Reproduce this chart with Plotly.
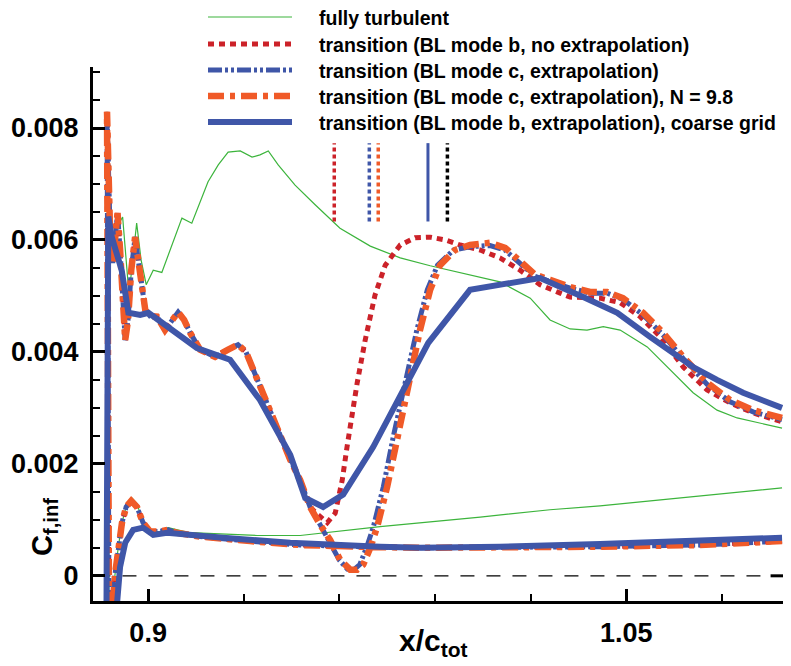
import plotly.graph_objects as go

# ---------------- data ----------------
# each series: lower surface (trailing edge -> leading edge) then upper surface (leading edge -> trailing edge)
turb_x = [1.0989, 1.0732, 1.0418, 1.0261, 1.0042, 0.9728, 0.9477, 0.9342, 0.9132, 0.9063, 0.9038, 0.9006,
          0.8984, 0.8965, 0.8949, 0.8931, 0.8918, 0.8906, 0.8896, 0.8887, 0.8878,
          0.8871, 0.8874, 0.8881, 0.8890, 0.8897, 0.8920, 0.8940, 0.8964, 0.8978, 0.8994, 0.9016, 0.9043,
          0.9106, 0.9137, 0.9188, 0.9220, 0.9251, 0.9289, 0.9326, 0.9351, 0.9377, 0.9408, 0.9461, 0.9524,
          0.9602, 0.9697, 0.9791, 0.9885, 1.0010, 1.0104, 1.0199, 1.0261, 1.0324, 1.0377, 1.0428, 1.0481,
          1.0566, 1.0638, 1.0710, 1.0785, 1.0848, 1.0989]
turb_y = [0.00157, 0.00143, 0.00125, 0.00118, 0.00105, 0.00088, 0.00072, 0.00072, 0.00077, 0.00086, 0.00079, 0.00079,
          0.00095, 0.00129, 0.00139, 0.00123, 0.00095, 0.00050, 0.00002, -0.00061, -0.00186,
          0.00829, 0.00743, 0.00605, 0.00573, 0.00618, 0.00641, 0.00502, 0.00630, 0.00564, 0.00520, 0.00546, 0.00542,
          0.00639, 0.00630, 0.00704, 0.00734, 0.00757, 0.00759, 0.00748, 0.00752, 0.00759, 0.00734, 0.00698, 0.00663,
          0.00621, 0.00589, 0.00568, 0.00554, 0.00538, 0.00525, 0.00496, 0.00457, 0.00441, 0.00439, 0.00445, 0.00439,
          0.00409, 0.00368, 0.00327, 0.00296, 0.00282, 0.00264]

# transition, BL mode c, extrapolation, N = 9.8 (orange)
n98_x = [1.0989, 1.0732, 1.0418, 1.0104, 0.9853, 0.9665, 0.9477, 0.9320, 0.9163, 0.9088, 0.9063, 0.9031, 0.9006,
         0.8984, 0.8965, 0.8947, 0.8931, 0.8918, 0.8906, 0.8896, 0.8887, 0.8878,
         0.8871, 0.8874, 0.8881, 0.8889, 0.8897, 0.8904, 0.8912, 0.8922, 0.8928, 0.8937, 0.8947, 0.8959, 0.8972,
         0.8991, 0.9006, 0.9028, 0.9053, 0.9075, 0.9094, 0.9113, 0.9132, 0.9163, 0.9210, 0.9251, 0.9282, 0.9307,
         0.9336, 0.9367, 0.9414, 0.9446, 0.9477, 0.9508, 0.9540, 0.9571, 0.9602, 0.9634, 0.9656, 0.9675, 0.9697,
         0.9719, 0.9750, 0.9781, 0.9816, 0.9853, 0.9885, 0.9916, 0.9963, 1.0010, 1.0073, 1.0120, 1.0167, 1.0214,
         1.0261, 1.0324, 1.0387, 1.0440, 1.0490, 1.0553, 1.0616, 1.0679, 1.0754, 1.0826, 1.0898, 1.0989]
n98_y = [0.00062, 0.00055, 0.00052, 0.00050, 0.00050, 0.00052, 0.00055, 0.00062, 0.00070, 0.00077, 0.00082, 0.00079, 0.00079,
         0.00095, 0.00123, 0.00134, 0.00123, 0.00095, 0.00050, 0.00002, -0.00061, -0.00186,
         0.00829, 0.00743, 0.00605, 0.00559, 0.00609, 0.00648, 0.00582, 0.00475, 0.00421, 0.00457, 0.00546, 0.00605, 0.00546,
         0.00475, 0.00464, 0.00463, 0.00439, 0.00457, 0.00471, 0.00457, 0.00434, 0.00404, 0.00391, 0.00404, 0.00413, 0.00400,
         0.00359, 0.00314, 0.00252, 0.00207, 0.00171, 0.00123, 0.00091, 0.00064, 0.00029, 0.00011, 0.00011, 0.00020, 0.00050,
         0.00088, 0.00159, 0.00248, 0.00338, 0.00439, 0.00511, 0.00555, 0.00582, 0.00591, 0.00595, 0.00586, 0.00561, 0.00538,
         0.00529, 0.00516, 0.00507, 0.00507, 0.00496, 0.00470, 0.00434, 0.00391, 0.00345, 0.00314, 0.00296, 0.00282]

# transition, BL mode c, extrapolation (blue dash-dot-dot)
modec_x = [1.0989, 1.0732, 1.0418, 1.0104, 0.9853, 0.9665, 0.9477, 0.9320, 0.9163, 0.9088, 0.9063, 0.9031, 0.9006,
           0.8984, 0.8965, 0.8947, 0.8931, 0.8918, 0.8906, 0.8896, 0.8887, 0.8878,
           0.8871, 0.8874, 0.8881, 0.8889, 0.8897, 0.8904, 0.8912, 0.8922, 0.8928, 0.8937, 0.8947, 0.8959, 0.8972,
           0.8991, 0.9006, 0.9028, 0.9053, 0.9075, 0.9094, 0.9113, 0.9132, 0.9163, 0.9210, 0.9251, 0.9282, 0.9307,
           0.9336, 0.9367, 0.9414, 0.9446, 0.9477, 0.9508, 0.9540, 0.9571, 0.9600, 0.9625, 0.9646, 0.9664, 0.9685,
           0.9707, 0.9738, 0.9769, 0.9804, 0.9843, 0.9876, 0.9908, 0.9958, 1.0010, 1.0073, 1.0120, 1.0167, 1.0214,
           1.0261, 1.0324, 1.0387, 1.0440, 1.0490, 1.0553, 1.0616, 1.0679, 1.0754, 1.0826, 1.0898, 1.0989]
modec_y = [0.00062, 0.00055, 0.00052, 0.00050, 0.00050, 0.00052, 0.00055, 0.00062, 0.00070, 0.00077, 0.00082, 0.00079, 0.00079,
           0.00095, 0.00123, 0.00134, 0.00123, 0.00095, 0.00050, 0.00002, -0.00061, -0.00186,
           0.00829, 0.00743, 0.00605, 0.00559, 0.00609, 0.00648, 0.00582, 0.00475, 0.00421, 0.00457, 0.00546, 0.00605, 0.00546,
           0.00475, 0.00464, 0.00463, 0.00439, 0.00457, 0.00471, 0.00457, 0.00434, 0.00404, 0.00391, 0.00404, 0.00413, 0.00400,
           0.00359, 0.00314, 0.00252, 0.00207, 0.00171, 0.00123, 0.00091, 0.00060, 0.00028, 0.00012, 0.00011, 0.00020, 0.00050,
           0.00088, 0.00159, 0.00248, 0.00338, 0.00439, 0.00511, 0.00555, 0.00582, 0.00588, 0.00590, 0.00582, 0.00558, 0.00535,
           0.00526, 0.00514, 0.00505, 0.00505, 0.00494, 0.00466, 0.00430, 0.00388, 0.00342, 0.00311, 0.00293, 0.00279]

# transition, BL mode b, no extrapolation (red dotted)
modeb_x = [1.0989, 1.0732, 1.0418, 1.0104, 0.9853, 0.9665, 0.9477, 0.9320, 0.9163, 0.9088, 0.9063, 0.9031, 0.9006,
           0.8984, 0.8965, 0.8947, 0.8931, 0.8918, 0.8906, 0.8896, 0.8887, 0.8878,
           0.8871, 0.8874, 0.8881, 0.8889, 0.8897, 0.8904, 0.8912, 0.8922, 0.8928, 0.8937, 0.8947, 0.8959, 0.8972,
           0.8991, 0.9006, 0.9028, 0.9053, 0.9075, 0.9094, 0.9113, 0.9132, 0.9163, 0.9210, 0.9251, 0.9282, 0.9307,
           0.9336, 0.9367, 0.9414, 0.9446, 0.9477, 0.9508, 0.9533, 0.9562, 0.9587, 0.9609, 0.9624, 0.9640, 0.9656,
           0.9681, 0.9712, 0.9744, 0.9791, 0.9838, 0.9885, 0.9932, 0.9979, 1.0042, 1.0104, 1.0167, 1.0230, 1.0293,
           1.0324, 1.0418, 1.0481, 1.0544, 1.0607, 1.0679, 1.0754, 1.0826, 1.0898, 1.0989]
modeb_y = [0.00062, 0.00055, 0.00052, 0.00050, 0.00050, 0.00052, 0.00055, 0.00062, 0.00070, 0.00077, 0.00082, 0.00079, 0.00079,
           0.00095, 0.00123, 0.00134, 0.00123, 0.00095, 0.00050, 0.00002, -0.00061, -0.00186,
           0.00829, 0.00743, 0.00605, 0.00559, 0.00609, 0.00648, 0.00582, 0.00475, 0.00421, 0.00457, 0.00546, 0.00605, 0.00546,
           0.00475, 0.00464, 0.00463, 0.00439, 0.00457, 0.00471, 0.00457, 0.00434, 0.00404, 0.00391, 0.00404, 0.00413, 0.00400,
           0.00359, 0.00314, 0.00252, 0.00207, 0.00171, 0.00123, 0.00109, 0.00095, 0.00112, 0.00171, 0.00230, 0.00291, 0.00345,
           0.00421, 0.00502, 0.00555, 0.00591, 0.00604, 0.00605, 0.00600, 0.00591, 0.00582, 0.00568, 0.00546, 0.00520, 0.00505,
           0.00498, 0.00496, 0.00488, 0.00463, 0.00427, 0.00373, 0.00332, 0.00309, 0.00291, 0.00275]

# transition, BL mode b, extrapolation, coarse grid (blue solid)
coarse_x = [1.0989, 1.0732, 1.0418, 1.0104, 0.9853, 0.9728, 0.9549, 0.9446, 0.9235, 0.9059, 0.9016, 0.8984, 0.8953,
            0.8928, 0.8912, 0.8902, 0.8893, 0.8868,
            0.8871, 0.8875, 0.8886, 0.8917, 0.8938, 0.8975, 0.9001, 0.9078, 0.9153, 0.9257, 0.9351, 0.9446, 0.9493,
            0.9549, 0.9612, 0.9706, 0.9816, 0.9879, 1.0010, 1.0230, 1.0365, 1.0472, 1.0575, 1.0647, 1.0710, 1.0785,
            1.0867, 1.0989]
coarse_y = [0.00068, 0.00062, 0.00057, 0.00052, 0.00050, 0.00052, 0.00055, 0.00059, 0.00068, 0.00077, 0.00073, 0.00086, 0.00082,
            0.00059, 0.00016, -0.00048, -0.00114, -0.00220,
            0.00600, 0.00642, 0.00605, 0.00546, 0.00470, 0.00466, 0.00470, 0.00439, 0.00407, 0.00386, 0.00314, 0.00216, 0.00139,
            0.00123, 0.00145, 0.00230, 0.00350, 0.00416, 0.00511, 0.00532, 0.00498, 0.00470, 0.00427, 0.00398, 0.00373, 0.00350,
            0.00327, 0.00300]

# predicted transition locations (short vertical markers)
trans_loc_x = [0.9584, 0.9694, 0.9722, 0.9878, 0.9939]
trans_mark_y = [0.00633, 0.00773]

x_tickvals = [0.9, 1.05]
x_ticktext = ["0.9", "1.05"]

legend_labels = ["fully turbulent",
                 "transition (BL mode b, no extrapolation)",
                 "transition (BL mode c, extrapolation)",
                 "transition (BL mode c, extrapolation), N = 9.8",
                 "transition (BL mode b, extrapolation), coarse grid"]

# ---------------- styles ----------------
GREEN = "#3cb43c"
RED = "#cc2229"
BLUE = "#3f56a8"
ORANGE = "#f05a28"
FONT = "Liberation Sans"

styles = [
    dict(color=GREEN, width=1.2, dash="solid"),
    dict(color=RED, width=5, dash="6px,5px"),
    dict(color=BLUE, width=5, dash="14px,3px,3px,3px,3px,3px"),
    dict(color=ORANGE, width=6.5, dash="16px,6px,5px,6px"),
    dict(color=BLUE, width=6, dash="solid"),
]

fig = go.Figure()
series = [(turb_x, turb_y), (modeb_x, modeb_y), (modec_x, modec_y), (n98_x, n98_y), (coarse_x, coarse_y)]
for (xs, ys), st, name in zip(series, styles, legend_labels):
    fig.add_trace(go.Scatter(x=xs, y=ys, mode="lines", name=name, line=st, showlegend=False, hoverinfo="skip"))

marker_styles = [
    dict(color=RED, width=3.5, dash="4px,3px"),
    dict(color=BLUE, width=3.5, dash="4px,3px"),
    dict(color=ORANGE, width=3.5, dash="4px,3px"),
    dict(color=BLUE, width=3, dash="solid"),
    dict(color="black", width=3.5, dash="4px,3px"),
]
for xv, st in zip(trans_loc_x, marker_styles):
    fig.add_trace(go.Scatter(x=[xv, xv], y=trans_mark_y, mode="lines", line=st, showlegend=False, hoverinfo="skip"))

# zero line
fig.add_shape(type="line", xref="paper", yref="y", x0=0.005, x1=1.0, y0=0, y1=0,
              line=dict(color="black", width=1.2, dash="14px,12px"), layer="below")
fig.add_shape(type="line", xref="paper", yref="y", x0=0.982, x1=1.0, y0=0, y1=0,
              line=dict(color="black", width=3), layer="below")

# manual legend
L, R, T, B = 93, 783, 67, 601
W, H = R - L, B - T
def px_x(px):
    return (px - L) / W
def px_y(py):
    return (B - py) / H

rows = [17, 44, 70, 96, 122]
for lab, st, py in zip(legend_labels, styles, rows):
    fig.add_shape(type="line", xref="paper", yref="paper", x0=px_x(208), x1=px_x(292), y0=px_y(py), y1=px_y(py),
                  line=dict(color=st["color"], width=st["width"], dash=st["dash"]))
    fig.add_annotation(xref="paper", yref="paper", x=px_x(317), y=px_y(py + 1), text="<b>" + lab + "</b>",
                       showarrow=False, xanchor="left", yanchor="middle",
                       font=dict(family=FONT, size=19.5, color="black"))

# axis titles
fig.add_annotation(xref="paper", yref="paper", x=px_x(433), y=px_y(642), text="<b>x/c<sub>tot</sub></b>",
                   showarrow=False, xanchor="center", yanchor="middle", font=dict(family=FONT, size=30, color="black"))
fig.add_annotation(xref="paper", yref="paper", x=px_x(44), y=px_y(527), text="<b>C<sub>f,inf</sub></b>",
                   showarrow=False, textangle=-90, xanchor="center", yanchor="middle",
                   font=dict(family=FONT, size=29, color="black"))

fig.update_layout(
    width=791, height=666,
    margin=dict(l=L, r=791 - R, t=T, b=666 - B),
    paper_bgcolor="white", plot_bgcolor="white",
    showlegend=False,
    xaxis=dict(range=[0.8827, 1.0992], showline=True, linewidth=3, linecolor="black", mirror=False,
               showgrid=False, zeroline=False, ticks="inside", ticklen=12, tickwidth=2.5, tickcolor="black",
               tickvals=x_tickvals, ticktext=x_ticktext, ticklabelstandoff=6,
               tickfont=dict(family=FONT, size=27, color="black", weight="bold"),
               minor=dict(ticks="inside", ticklen=7, tickwidth=1.5, tickcolor="black", dtick=0.03, tick0=0.9,
                          showgrid=False)),
    yaxis=dict(range=[-0.00045, 0.00909], showline=True, linewidth=3, linecolor="black", mirror=False,
               showgrid=False, zeroline=False, ticks="inside", ticklen=12, tickwidth=2.5, tickcolor="black",
               dtick=0.002, tick0=0, tickformat="~g", ticklabelstandoff=6,
               tickfont=dict(family=FONT, size=27, color="black", weight="bold"),
               minor=dict(ticks="inside", ticklen=7, tickwidth=1.5, tickcolor="black", dtick=0.0005,
                          showgrid=False)),
)

fig.write_html("out.html")
